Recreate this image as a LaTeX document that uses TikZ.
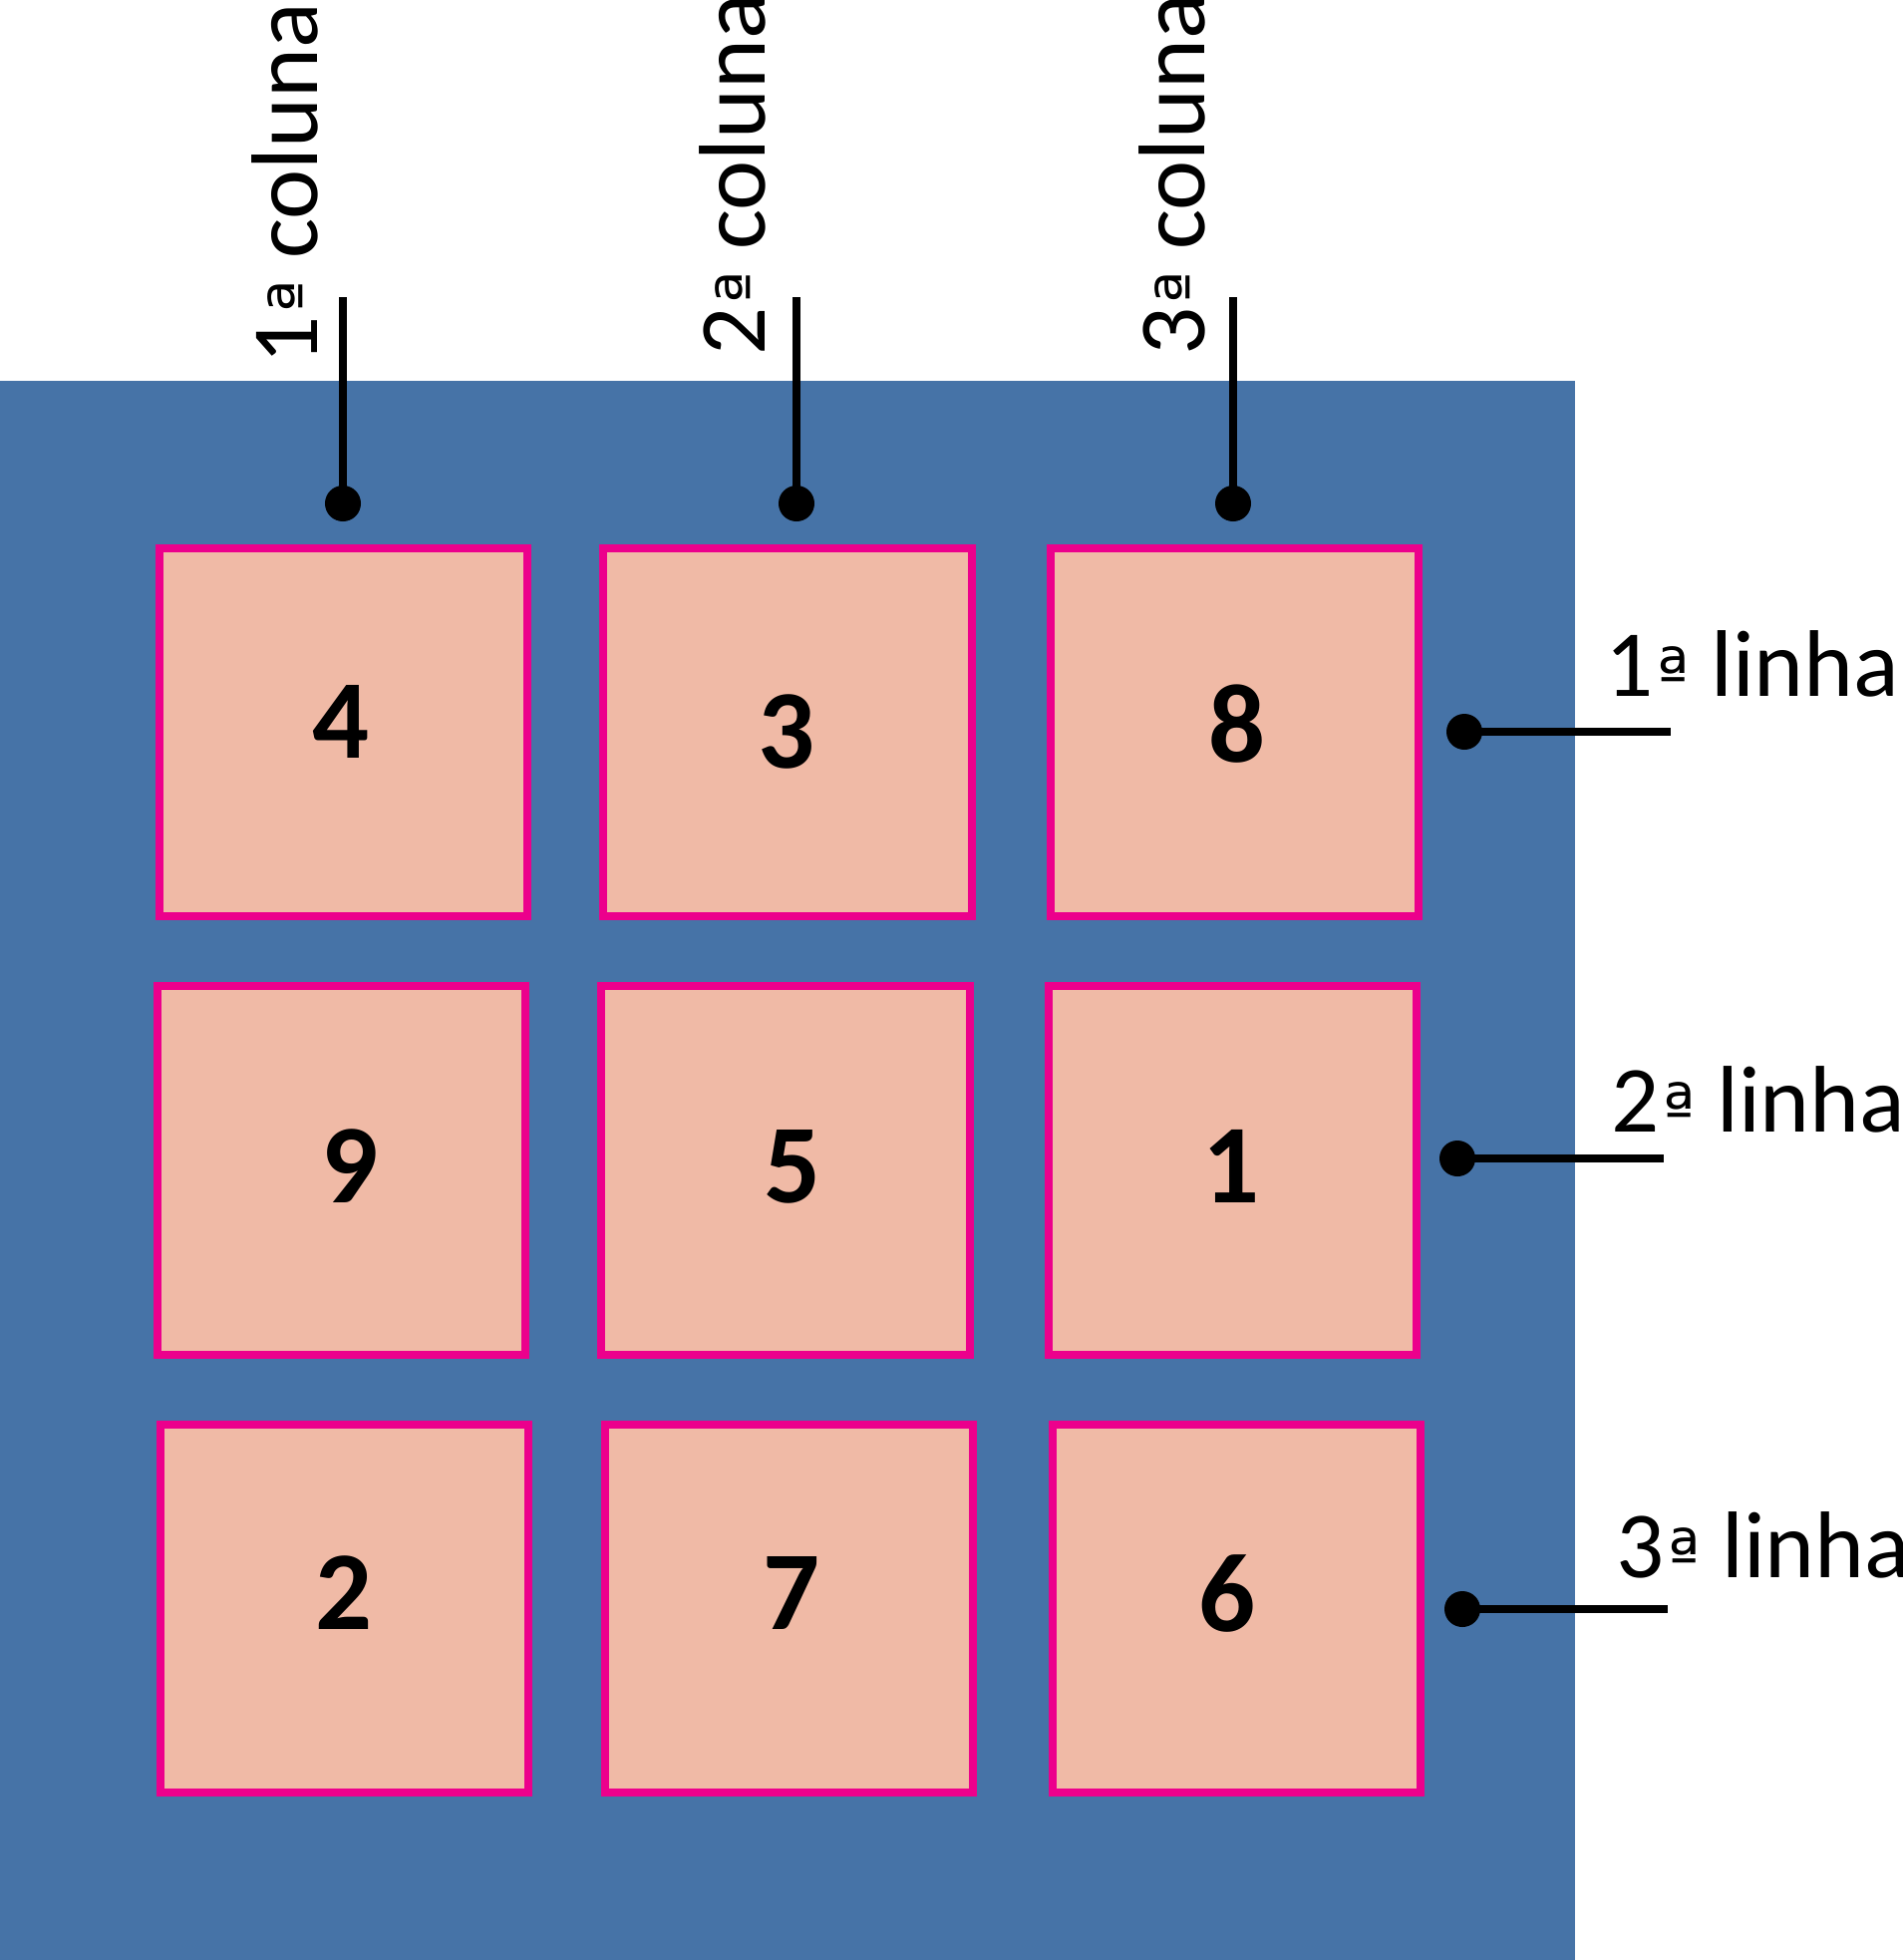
\documentclass[tikz,border=0pt]{standalone}
\usepackage{fontspec}
\setmainfont{Carlito}
\newfontfamily\ordfont{DejaVu Sans}
\usepackage{tikz}
\definecolor{azul}{RGB}{70,115,167}
\definecolor{rosa}{RGB}{236,0,140}
\definecolor{salmao}{RGB}{240,186,166}
\def\ordA{\kern0.04em{\ordfont\fontsize{19.5}{20}\selectfont\raisebox{-0.5pt}{ª}}}

\begin{document}
\begin{tikzpicture}[x=0.01cm, y=-0.01cm,
		casa/.style={draw=rosa, fill=salmao, line width=0.08cm, minimum size=3.69cm, inner sep=0},
		numero/.style={font=\fontsize{32}{38}\selectfont\bfseries, inner sep=0},
		ponto/.style={circle, fill=black, minimum size=0.36cm, inner sep=0},
		linha/.style={line width=0.08cm},
		rotulo/.style={font=\fontsize{27}{32}\selectfont, inner sep=0, anchor=base west}]
		%%%%% START %%%%%
		\useasboundingbox (0, 0) rectangle (1908, 1966);
		\fill[azul] (0, 382) rectangle (1580, 1966);
		
		\node[casa] (c11) at (344.5, 734.5) {};
		\node[casa] (c12) at (790, 734.5) {};
		\node[casa] (c13) at (1238.5, 734.5) {};
		\node[casa] (c21) at (342.5, 1174) {};
		\node[casa] (c22) at (788, 1174) {};
		\node[casa] (c23) at (1236.5, 1174) {};
		\node[casa] (c31) at (345.5, 1613.5) {};
		\node[casa] (c32) at (791.5, 1613.5) {};
		\node[casa] (c33) at (1240.5, 1613.5) {};
		
		\node[numero] (n11) at (342, 724) {4};
		\node[numero] (n12) at (789, 734) {3};
		\node[numero] (n13) at (1241, 726) {8};
		\node[numero] (n21) at (351, 1170) {9};
		\node[numero] (n22) at (795, 1170) {5};
		\node[numero] (n23) at (1235, 1170) {1};
		\node[numero] (n31) at (345, 1598) {2};
		\node[numero] (n32) at (794, 1598) {7};
		\node[numero] (n33) at (1231, 1598) {6};
		
		\node[ponto] (p1) at (344, 505) {};
		\node[ponto] (p2) at (799, 505) {};
		\node[ponto] (p3) at (1237, 505) {};
		\coordinate (t1) at (344, 298);
		\coordinate (t2) at (799, 298);
		\coordinate (t3) at (1237, 298);
		\draw[linha] (t1) -- (p1.center);
		\draw[linha] (t2) -- (p2.center);
		\draw[linha] (t3) -- (p3.center);
		\node[rotulo, rotate=90] (col1) at (318, 366) {1\ordA{} coluna};
		\node[rotulo, rotate=90] (col2) at (767, 357) {2\ordA{} coluna};
		\node[rotulo, rotate=90] (col3) at (1208, 357) {3\ordA{} coluna};
		
		\node[ponto] (p4) at (1469, 734) {};
		\node[ponto] (p5) at (1462, 1162) {};
		\node[ponto] (p6) at (1467, 1614) {};
		\coordinate (f4) at (1676, 734);
		\coordinate (f5) at (1669, 1162);
		\coordinate (f6) at (1673, 1614);
		\draw[linha] (p4.center) -- (f4);
		\draw[linha] (p5.center) -- (f5);
		\draw[linha] (p6.center) -- (f6);
		\node[rotulo] (lin1) at (1610, 698) {1\ordA{} linha};
		\node[rotulo] (lin2) at (1616, 1135) {2\ordA{} linha};
		\node[rotulo] (lin3) at (1621, 1582) {3\ordA{} linha};
		%%%%% END %%%%%
	\end{tikzpicture}
\end{document}
